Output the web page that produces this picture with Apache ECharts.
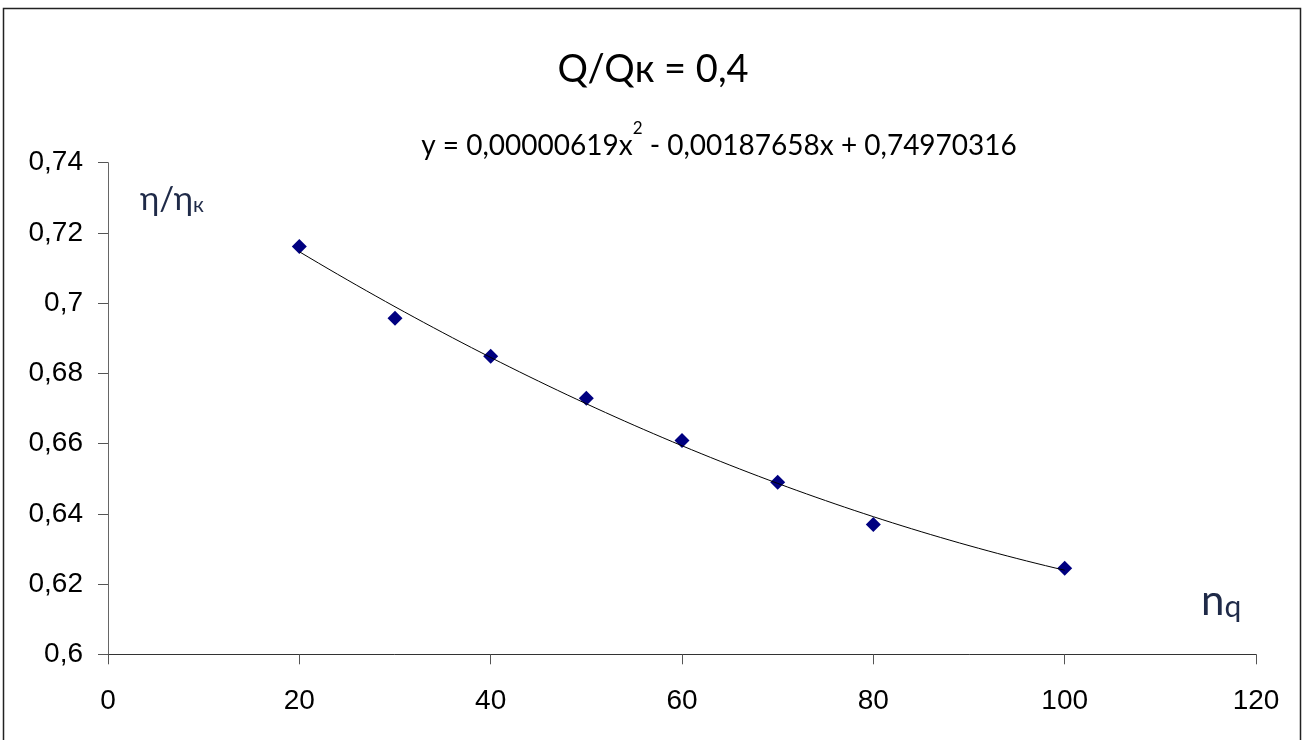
<!DOCTYPE html>
<html>
<head>
<meta charset="utf-8">
<script src="https://cdn.jsdelivr.net/npm/echarts@6/dist/echarts.min.js"></script>
<style>
  html, body { margin: 0; padding: 0; background: #fff; }
  #chart { width: 1303px; height: 740px; }
</style>
</head>
<body>
<div id="chart"></div>
<script>
// Measured points: relative efficiency vs n_q at Q/Qк = 0,4
const xValues = [20, 30, 40, 50, 60, 70, 80, 100];
const yValues = [0.7161, 0.6957, 0.6849, 0.6729, 0.6609, 0.6490, 0.6370, 0.6245];

// Quadratic trendline coefficients (a·x² + b·x + c), as printed on the chart
const trendCoef = [0.00000619, -0.00187658, 0.74970316];
const trendRange = [20, 100];

// Axis ranges
const xAxisRange = { min: 0, max: 120, interval: 20 };
const yAxisRange = { min: 0.6, max: 0.74, interval: 0.02 };

const titleText = 'Q/Qк = 0,4';

const points = xValues.map((x, i) => [x, yValues[i]]);

const trendPoints = [];
for (let x = trendRange[0]; x <= trendRange[1]; x += 1) {
  trendPoints.push([x, trendCoef[0] * x * x + trendCoef[1] * x + trendCoef[2]]);
}

const fmtComma = v => parseFloat(v.toFixed(2)).toString().replace('.', ',');
const fmtCoef = v => Math.abs(v).toFixed(8).replace('.', ',');

const calibriLike = 'Lato, "Open Sans", sans-serif';
const arialLike = '"Liberation Sans", Arial, sans-serif';
const labelColor = '#1f2a48';

const chart = echarts.init(document.getElementById('chart'), null, { renderer: 'canvas' });

chart.setOption({
  backgroundColor: '#ffffff',
  animation: false,
  grid: { left: 108, right: 47, top: 162.7, bottom: 85.7, containLabel: false },
  xAxis: {
    type: 'value',
    min: xAxisRange.min, max: xAxisRange.max, interval: xAxisRange.interval,
    axisLine: { show: true, onZero: false, lineStyle: { color: '#333', width: 1 } },
    axisTick: { show: true, inside: false, length: 10, lineStyle: { color: '#555' } },
    axisLabel: { fontFamily: arialLike, fontSize: 28, color: '#000', margin: 33 },
    splitLine: { show: false }
  },
  yAxis: {
    type: 'value',
    min: yAxisRange.min, max: yAxisRange.max, interval: yAxisRange.interval,
    axisLine: { show: true, onZero: false, lineStyle: { color: '#666', width: 1 } },
    axisTick: { show: true, inside: false, length: 10, lineStyle: { color: '#555' } },
    axisLabel: { fontFamily: arialLike, fontSize: 28, color: '#000', margin: 25, formatter: fmtComma },
    splitLine: { show: false }
  },
  series: [
    {
      name: 'data',
      type: 'scatter',
      data: points,
      symbol: 'diamond',
      symbolSize: 15,
      itemStyle: { color: '#000080', opacity: 1 },
      z: 2
    },
    {
      name: 'trend',
      type: 'line',
      data: trendPoints,
      showSymbol: false,
      symbol: 'none',
      smooth: false,
      lineStyle: { color: '#000', width: 1 },
      z: 3
    }
  ],
  graphic: [
    {
      type: 'rect',
      shape: { x: 3.5, y: 8.5, width: 1297, height: 800 },
      style: { fill: 'none', stroke: '#222', lineWidth: 1.5 },
      silent: true
    },
    {
      type: 'text',
      x: 653, y: 70,
      style: {
        text: titleText,
        fontFamily: calibriLike,
        fontSize: 38,
        fill: '#000',
        textAlign: 'center',
        textVerticalAlign: 'middle'
      }
    },
    {
      type: 'text',
      x: 719, y: 120,
      style: {
        text: '{n|y = ' + fmtCoef(trendCoef[0]) + 'x}{s|2}{n| - ' + fmtCoef(trendCoef[1]) + 'x + ' + fmtCoef(trendCoef[2]) + '}',
        textAlign: 'center',
        textVerticalAlign: 'top',
        fill: '#000',
        rich: {
          n: { fontFamily: calibriLike, fontSize: 28, lineHeight: 40, verticalAlign: 'bottom', fill: '#000' },
          s: { fontFamily: calibriLike, fontSize: 17, lineHeight: 40, verticalAlign: 'top', fill: '#000' }
        }
      }
    },
    {
      type: 'text',
      x: 140, y: 195,
      style: {
        text: '{a|η/η}{b|к}',
        textAlign: 'left',
        textVerticalAlign: 'middle',
        rich: {
          a: { fontFamily: calibriLike, fontSize: 33, fill: labelColor, lineHeight: 42, verticalAlign: 'bottom' },
          b: { fontFamily: calibriLike, fontSize: 21, fill: labelColor, lineHeight: 42, verticalAlign: 'bottom' }
        }
      }
    },
    {
      type: 'text',
      x: 1201, y: 596,
      style: {
        text: '{a|n}{b|q}',
        textAlign: 'left',
        textVerticalAlign: 'middle',
        rich: {
          a: { fontFamily: calibriLike, fontSize: 42, fill: labelColor, lineHeight: 52, verticalAlign: 'bottom' },
          b: { fontFamily: calibriLike, fontSize: 30, fill: labelColor, lineHeight: 52, verticalAlign: 'bottom' }
        }
      }
    }
  ]
});
</script>
</body>
</html>
